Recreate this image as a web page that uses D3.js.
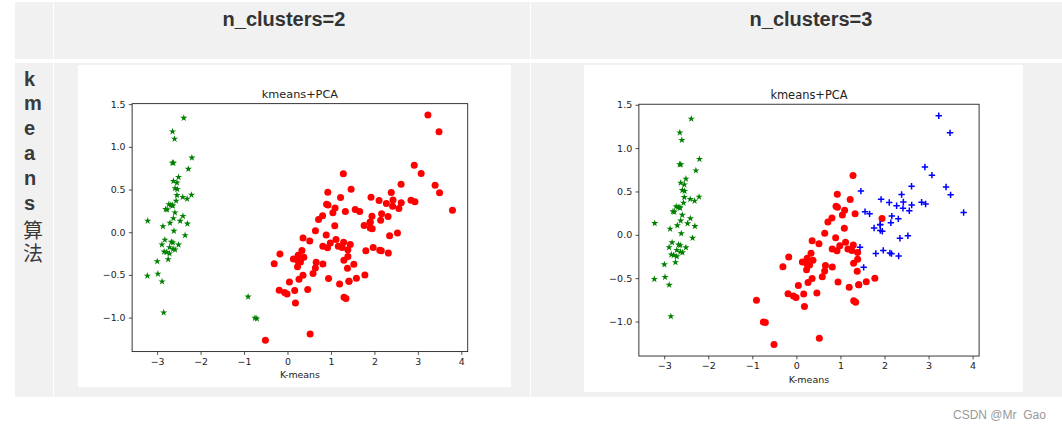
<!DOCTYPE html>
<html><head><meta charset="utf-8">
<script src="https://cdn.jsdelivr.net/npm/d3@7"></script>
<style>body{margin:0;background:#fff}svg{display:block}</style>
</head><body><svg id="c" width="1062" height="430"></svg>
<script>
// PCA component 1 and 2 of each sample
const pc1=[-2.684,-2.714,-2.889,-2.745,-2.729,-2.281,-2.821,-2.626,-2.886,-2.673,
-2.507,-2.613,-2.786,-3.224,-2.645,-2.386,-2.624,-2.648,-2.200,-2.588,
-2.310,-2.544,-3.216,-2.303,-2.356,-2.507,-2.469,-2.562,-2.640,-2.632,
-2.587,-2.410,-2.649,-2.599,-2.637,-2.866,-2.625,-2.801,-2.981,-2.590,
-2.770,-2.849,-2.997,-2.406,-2.209,-2.714,-2.538,-2.839,-2.543,-2.703,
1.285,0.932,1.464,0.183,1.088,0.642,1.095,-0.749,1.044,-0.009,
-0.508,0.512,0.265,0.985,-0.174,0.928,0.660,0.236,0.945,0.045,
1.116,0.358,1.298,0.922,0.715,0.900,1.332,1.558,0.813,-0.306,
-0.068,-0.190,0.136,1.380,0.588,0.807,1.221,0.815,0.246,0.166,
0.465,0.891,0.231,-0.705,0.357,0.332,0.376,0.643,-0.906,0.299,
2.531,1.415,2.617,1.972,2.350,3.397,0.521,2.933,2.321,2.917,
1.662,1.803,2.166,1.346,1.586,1.904,1.950,3.487,3.796,1.301,
2.428,1.199,3.500,1.389,2.275,2.614,1.259,1.291,2.124,2.388,
2.842,3.231,2.159,1.444,1.781,3.076,2.144,1.905,1.169,2.108,
2.314,1.922,1.415,2.563,2.419,1.944,1.527,1.764,1.901,1.390];
const pc2=[0.319,-0.177,-0.145,-0.318,0.327,0.741,-0.089,0.163,-0.578,-0.114,
0.645,0.015,-0.235,-0.511,1.179,1.338,0.811,0.312,0.873,0.514,
0.391,0.433,0.133,0.099,-0.037,-0.146,0.131,0.368,0.312,-0.197,
-0.204,0.411,0.813,1.093,-0.121,0.069,0.599,0.269,-0.488,0.229,
0.264,-0.941,-0.342,0.189,0.437,-0.250,0.504,-0.228,0.579,0.108,
0.685,0.318,0.504,-0.828,0.075,-0.418,0.283,-1.005,0.228,-0.723,
-1.266,-0.104,-0.550,-0.125,-0.255,0.467,-0.353,-0.334,-0.543,-0.584,
-0.085,-0.069,-0.328,-0.183,0.149,0.329,0.244,0.267,-0.163,-0.368,
-0.705,-0.680,-0.314,-0.421,-0.484,0.194,0.408,-0.372,-0.269,-0.682,
-0.671,-0.034,-0.404,-1.012,-0.505,-0.213,-0.293,0.018,-0.756,-0.349,
-0.010,-0.575,0.344,-0.180,-0.040,0.551,-1.193,0.356,-0.244,0.783,
0.242,-0.216,0.216,-0.777,-0.540,0.119,0.042,1.176,0.257,-0.761,
0.378,-0.606,0.461,-0.204,0.335,0.561,-0.180,-0.117,-0.210,0.465,
0.375,1.374,-0.217,-0.143,-0.500,0.688,0.140,0.049,-0.165,0.372,
0.184,0.409,-0.575,0.278,0.305,0.188,-0.375,0.079,0.117,-0.283];
// cluster of each sample, n_clusters=2 (0 = stars, 1 = circles)
const labels2=[0,0,0,0,0,0,0,0,0,0, 0,0,0,0,0,0,0,0,0,0, 0,0,0,0,0,0,0,0,0,0, 0,0,0,0,0,0,0,0,0,0, 0,0,0,0,0,0,0,0,0,0,
1,1,1,1,1,1,1,0,1,1, 1,1,1,1,1,1,1,1,1,1, 1,1,1,1,1,1,1,1,1,1, 1,1,1,1,1,1,1,1,1,1, 1,1,1,0,1,1,1,1,0,1,
1,1,1,1,1,1,1,1,1,1, 1,1,1,1,1,1,1,1,1,1, 1,1,1,1,1,1,1,1,1,1, 1,1,1,1,1,1,1,1,1,1, 1,1,1,1,1,1,1,1,1,1];
// cluster of each sample, n_clusters=3 (0 = stars, 1 = circles, 2 = plus)
const labels3=[0,0,0,0,0,0,0,0,0,0, 0,0,0,0,0,0,0,0,0,0, 0,0,0,0,0,0,0,0,0,0, 0,0,0,0,0,0,0,0,0,0, 0,0,0,0,0,0,0,0,0,0,
1,1,2,1,1,1,1,1,1,1, 1,1,1,1,1,1,1,1,1,1, 1,1,1,1,1,1,1,2,1,1, 1,1,1,1,1,1,1,1,1,1, 1,1,1,1,1,1,1,1,1,1,
2,1,2,2,2,2,1,2,2,2, 2,2,2,1,1,2,2,2,2,1, 2,1,2,1,2,2,1,1,2,2, 2,2,2,2,1,2,2,2,1,2, 2,2,1,2,2,1,2,2,2,1];
const xTicks=[-3,-2,-1,0,1,2,3,4];
const yTicks=[-1.0,-0.5,0.0,0.5,1.0,1.5];
const headers=["n_clusters=2","n_clusters=3"];
const rowLabel=["k","m","e","a","n","s","算","法"];
const chartTitle="kmeans+PCA";
const xLabel="K-means";
const watermark="CSDN @Mr  Gao";

const svg=d3.select("#c");
const cellFill="#f1f1f1";
// table cells
const cells=[[15,2,38,57],[54,2,476,57],[531,2,531,57],[15,63,38,334],[54,63,476,334],[531,63,531,334]];
svg.selectAll("rect.cell").data(cells).join("rect").attr("class","cell")
  .attr("x",d=>d[0]).attr("y",d=>d[1]).attr("width",d=>d[2]).attr("height",d=>d[3]).attr("fill",cellFill);
svg.selectAll("text.hdr").data(headers).join("text").attr("class","hdr")
  .attr("x",(d,i)=>[284,811][i]).attr("y",26).attr("text-anchor","middle")
  .attr("font-family","'Liberation Sans',Arial,sans-serif").attr("font-weight","bold").attr("font-size",20)
  .attr("fill","#333").text(d=>d);
const latin=rowLabel.filter(c=>/[a-z]/.test(c)), cjk=rowLabel.filter(c=>!/[a-z]/.test(c));
svg.selectAll("text.rl").data(latin).join("text").attr("class","rl")
  .attr("x",24).attr("y",(d,i)=>85.5+24.8*i)
  .attr("font-family","'Liberation Sans',Arial,sans-serif")
  .attr("font-weight","bold").attr("font-size",20).attr("fill","#3a3a3a").text(d=>d);
svg.append("text").attr("x",33).attr("y",220)
  .style("writing-mode","vertical-rl").style("letter-spacing","3.5px")
  .attr("font-family","'Noto Sans CJK SC',sans-serif").attr("font-size",20).attr("fill","#3a3a3a").text(cjk.join(""));
svg.append("text").attr("x",953).attr("y",419).attr("font-family","'Liberation Sans',Arial,sans-serif")
  .attr("font-size",12).attr("fill","#999").attr("xml:space","preserve").style("white-space","pre").text(watermark);

const pts=pc1.map((v,i)=>({x:v,y:pc2[i]}));
function pad(ext){const m=(ext[1]-ext[0])*0.05;return [ext[0]-m,ext[1]+m];}
const xDom=pad(d3.extent(pc1)), yDom=pad(d3.extent(pc2));

function drawFig(box,labels,styles){
  const s=box.w/640, sy=box.h/480;
  const g=svg.append("g");
  g.append("rect").attr("x",box.x).attr("y",box.y).attr("width",box.w).attr("height",box.h).attr("fill","#fff");
  const ax0=box.x+80*s, ax1=box.x+576*s, ay0=box.y+57.6*sy, ay1=box.y+427.2*sy;
  const x=d3.scaleLinear().domain(xDom).range([ax0,ax1]);
  const y=d3.scaleLinear().domain(yDom).range([ay1,ay0]);
  const fs=13.89*s, tl=4.86*s, tp=4.86*s;
  const fmtMinus=v=>String(v).replace("-","\u2212");
  const xa=g.append("g").attr("transform",`translate(0,${ay1})`)
    .call(d3.axisBottom(x).tickValues(xTicks).tickSize(tl).tickPadding(tp).tickFormat(d=>fmtMinus(d3.format("d")(d))));
  const ya=g.append("g").attr("transform",`translate(${ax0},0)`)
    .call(d3.axisLeft(y).tickValues(yTicks).tickSize(tl).tickPadding(tp).tickFormat(d=>fmtMinus(d3.format(".1f")(d))));
  [xa,ya].forEach(a=>{a.select(".domain").remove();
    a.selectAll("text").attr("font-family","'DejaVu Sans',sans-serif").attr("font-size",fs).attr("fill","#222");
    a.selectAll("line").attr("stroke","#222").attr("stroke-width",0.8);});
  g.append("rect").attr("x",ax0).attr("y",ay0).attr("width",ax1-ax0).attr("height",ay1-ay0)
    .attr("fill","none").attr("stroke","#222").attr("stroke-width",0.9);
  g.append("text").attr("x",(ax0+ax1)/2).attr("y",ay0-8.33*s).attr("text-anchor","middle")
    .attr("font-family","'DejaVu Sans',sans-serif").attr("font-size",16.67*s).attr("fill","#222").text(chartTitle);
  g.append("text").attr("x",(ax0+ax1)/2).attr("y",ay1+39*sy).attr("text-anchor","middle")
    .attr("font-family","'DejaVu Sans',sans-serif").attr("font-size",fs).attr("fill","#222").text(xLabel);
  const star=d3.symbol().type(d3.symbolStar).size(16)();
  const plus="M-3.2,0H3.2M0,-3.2V3.2";
  const mg=g.append("g");
  styles.forEach((st,k)=>{
    const sel=mg.selectAll(null).data(pts.filter((p,i)=>labels[i]===k)).join(st.kind==="circle"?"circle":"path");
    if(st.kind==="circle") sel.attr("cx",d=>x(d.x)).attr("cy",d=>y(d.y)).attr("r",3.5).attr("fill",st.color);
    else if(st.kind==="star") sel.attr("d",star).attr("transform",d=>`translate(${x(d.x)},${y(d.y)})`).attr("fill",st.color);
    else sel.attr("d",plus).attr("transform",d=>`translate(${x(d.x)},${y(d.y)})`).attr("fill","none").attr("stroke",st.color).attr("stroke-width",1.5);
  });
}
drawFig({x:78,y:65,w:433,h:322},labels2,[{kind:"star",color:"#008000"},{kind:"circle",color:"#ff0000"}]);
drawFig({x:584,y:65,w:439,h:327},labels3,[{kind:"star",color:"#008000"},{kind:"circle",color:"#ff0000"},{kind:"plus",color:"#0000ff"}]);
</script></body></html>
